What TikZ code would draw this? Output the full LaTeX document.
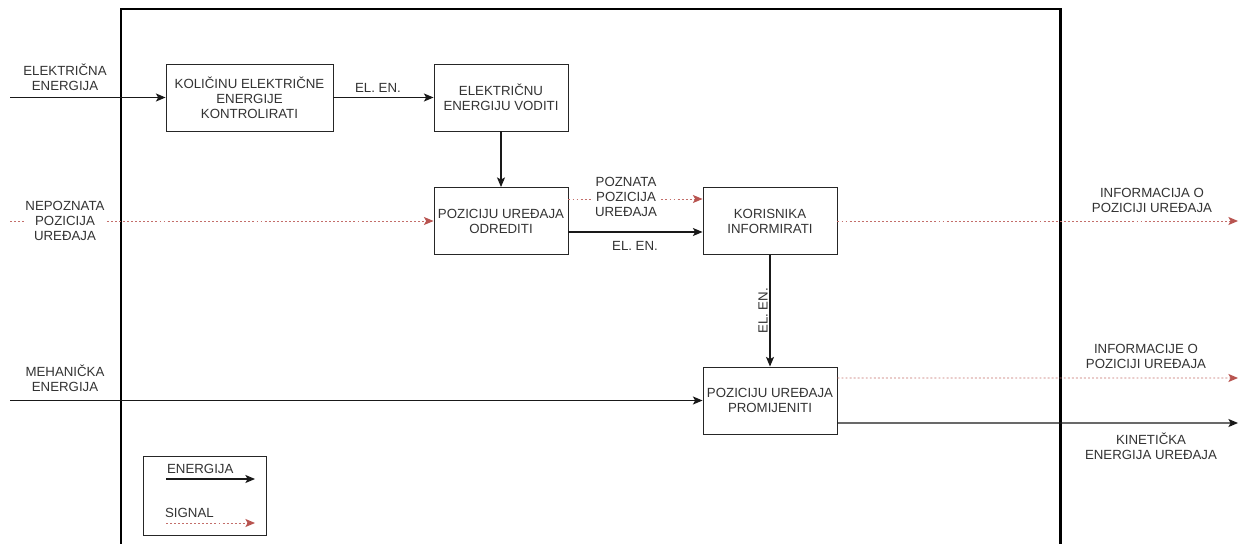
\documentclass[tikz,border=0pt]{standalone}
\usepackage{fontspec}
\setmainfont{Liberation Sans}
\usetikzlibrary{arrows.meta}
\definecolor{signalred}{HTML}{B85450}
\tikzset{
	blok/.style={draw=black!85, line width=0.55pt, align=center, inner sep=0pt, minimum width=2.68cm, minimum height=1.34cm, text=black!80},
	tekst/.style={align=center, inner sep=1pt, text=black!80},
	energija/.style={draw=black!90, line width=0.6pt, -{Stealth[length=5.5pt,width=4.6pt,inset=1.3pt]}},
	signal/.style={draw=signalred!85, line width=0.55pt, dash pattern=on 1.1pt off 1.2pt, -{Stealth[length=5.5pt,width=4.6pt,inset=1.3pt,color=signalred]}},
}
\begin{document}
\begin{tikzpicture}[x=0.02cm, y=-0.02cm, font=\fontsize{7.55}{8.5}\selectfont]
		%%%%% START %%%%%
		\useasboundingbox (0, 0) rectangle (1244, 544);
		\draw[line width=1.2pt] (121, 544) -- (121, 9) -- (1060.5, 9) -- (1060.5, 544);
		
		\node[blok, minimum width=3.34cm] (kontrola) at (249.5, 97.5) {KOLIČINU ELEKTRIČNE\\ENERGIJE\\KONTROLIRATI};
		\node[blok] (vodjenje) at (501, 97.5) {ELEKTRIČNU\\ENERGIJU VODITI};
		\node[blok] (odredjivanje) at (501, 221) {POZICIJU UREĐAJA\\ODREDITI};
		\node[blok] (informiranje) at (770, 221) {KORISNIKA\\INFORMIRATI};
		\node[blok] (promjena) at (770, 400.5) {POZICIJU UREĐAJA\\PROMIJENITI};
		
		\coordinate (ulazEE) at (10, 97.5);
		\coordinate (ulazPoz) at (10, 221);
		\coordinate (ulazME) at (10, 400.5);
		\coordinate (izlazInfo) at (1238, 221);
		\coordinate (izlazInfo2) at (1238, 378);
		\coordinate (izlazKE) at (1238, 423);
		
		% ulazi
		\draw[energija] (ulazEE) -- (kontrola);
		\node[tekst] (lblEE) at (65, 77.5) {ELEKTRIČNA\\ENERGIJA};
		\draw[signal] (ulazPoz) -- (odredjivanje);
		\node[tekst, fill=white] (lblPoz) at (65, 221) {NEPOZNATA\\POZICIJA\\UREĐAJA};
		\draw[energija] (ulazME) -- (promjena);
		\node[tekst] (lblME) at (65, 378) {MEHANIČKA\\ENERGIJA};
		
		% unutarnji tokovi
		\draw[energija] (kontrola) -- (vodjenje);
		\node[tekst] (lblEN1) at (378, 88) {EL. EN.};
		\draw[energija] (vodjenje) -- (odredjivanje);
		\draw[signal] ([yshift=0.44cm]odredjivanje.east) -- ([yshift=0.44cm]odredjivanje.east -| informiranje.west);
		\node[tekst, fill=white] (lblPoznata) at (626, 197) {POZNATA\\POZICIJA\\UREĐAJA};
		\draw[energija] ([yshift=-0.22cm]odredjivanje.east) -- ([yshift=-0.22cm]odredjivanje.east -| informiranje.west);
		\node[tekst] (lblEN2) at (635, 246) {EL. EN.};
		\draw[energija] (informiranje) -- node[tekst, midway, rotate=90, anchor=south] (lblEN3) {EL. EN.} (promjena);
		
		% izlazi
		\draw[signal] (informiranje) -- (izlazInfo);
		\node[tekst] (lblInfo) at (1152, 200.5) {INFORMACIJA O\\POZICIJI UREĐAJA};
		\draw[signal] ([yshift=0.45cm]promjena.east) -- (izlazInfo2);
		\node[tekst] (lblInfo2) at (1146, 356.5) {INFORMACIJE O\\POZICIJI UREĐAJA};
		\draw[energija] ([yshift=-0.45cm]promjena.east) -- (izlazKE);
		\node[tekst] (lblKE) at (1151, 446) {KINETIČKA\\ENERGIJA UREĐAJA};
		
		% legenda
		\node[draw=black!85, line width=0.55pt, minimum width=2.46cm, minimum height=1.58cm, inner sep=0pt] (legenda) at (205, 495.5) {};
		\node[tekst, anchor=west] (lblEnergija) at (165, 469) {ENERGIJA};
		\coordinate (legEpoc) at (166, 479);
		\coordinate (legEkraj) at (255, 479);
		\draw[energija] (legEpoc) -- (legEkraj);
		\node[tekst, anchor=west] (lblSignal) at (163, 513) {SIGNAL};
		\coordinate (legSpoc) at (166, 523);
		\coordinate (legSkraj) at (255, 523);
		\draw[signal] (legSpoc) -- (legSkraj);
		%%%%% END %%%%%
\end{tikzpicture}
\end{document}
